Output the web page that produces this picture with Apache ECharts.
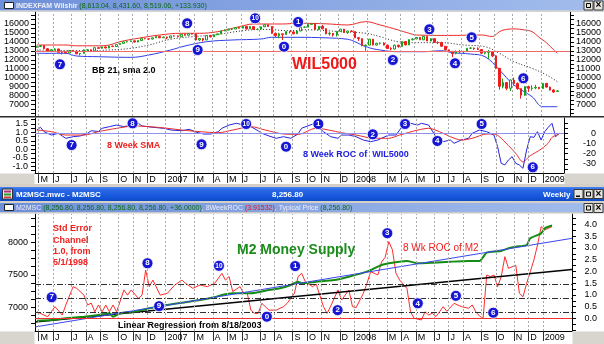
<!DOCTYPE html>
<html>
<head>
<meta charset="utf-8">
<script src="https://cdn.jsdelivr.net/npm/echarts@6/dist/echarts.min.js"></script>
<style>
html,body{margin:0;padding:0;background:#ffffff;}
#chart{width:604px;height:344px;}
</style>
</head>
<body>
<div id="chart"></div>
<script>
// Weekly bars, week index 0 = Friday 2006-04-28, last bar = 2009-01-30 (index 144)

// Wilshire 5000 weekly candles
const wilOpen = [
  13400,13480,13590,13235,12987,13122,13204,12836,12828,12756,
  13020,12971,12671,12713,13106,13114,12984,13349,13275,13438,
  13314,13527,13477,13692,13833,13997,14028,14117,13984,14154,
  14362,14359,14316,14450,14628,14461,14538,14449,14665,14663,
  14578,14846,14741,14919,14875,14219,14379,14216,14720,14564,
  14799,14892,15215,15315,15432,15435,15609,15536,15747,15454,
  15712,15402,15410,15687,15913,15725,14954,14689,14899,14820,
  15164,15109,14899,15214,15639,15650,15965,16008,15381,15737,
  15474,14900,14952,14767,15181,15423,15046,15216,15155,14469,
  14360,13583,13639,14303,13646,13838,13869,13639,13257,13203,
  13627,13481,14047,13661,14251,14327,14492,14230,14610,14103,
  14354,13947,13940,13508,13104,12945,12705,12922,12892,12918,
  13287,13307,13245,13149,12734,12830,12865,12436,11040,9030,
  9450,8810,9730,9350,8770,8040,9000,8800,8840,8920,
  8770,9360,8940,8620,8450
];
const wilClose = [
  13480,13590,13235,12987,13122,13204,12836,12828,12756,13020,
  12971,12671,12713,13106,13114,12984,13349,13275,13438,13314,
  13527,13477,13692,13833,13997,14028,14117,13984,14154,14362,
  14359,14316,14450,14628,14461,14538,14449,14665,14663,14578,
  14846,14741,14919,14875,14219,14379,14216,14720,14564,14799,
  14892,15215,15315,15432,15435,15609,15536,15747,15454,15712,
  15402,15410,15687,15913,15725,14954,14689,14899,14820,15164,
  15109,14899,15214,15639,15650,15965,16008,15381,15737,15474,
  14900,14952,14767,15181,15423,15046,15216,15155,14469,14360,
  13583,13639,14303,13646,13838,13869,13639,13257,13203,13627,
  13481,14047,13661,14251,14327,14492,14230,14610,14103,14354,
  13947,13940,13508,13104,12945,12705,12922,12892,12918,13287,
  13307,13245,13149,12734,12830,12865,12436,11040,9030,9450,
  8810,9730,9350,8770,8040,9000,8800,8840,8920,8770,
  9360,8940,8620,8385,8519
];
const wilLow = [
  13340,13420,13180,12900,12850,13080,12780,12600,12700,12720,
  12900,12620,12480,12690,13000,12920,12960,13220,13240,13270,
  13290,13420,13450,13670,13810,13950,13990,13930,13950,14130,
  14300,14200,14290,14430,14420,14440,14300,14420,14600,14520,
  14560,14700,14720,14830,14150,14100,14050,14200,14500,14540,
  14770,14880,15200,15290,15330,15420,15490,15520,15380,15430,
  15370,15300,15400,15660,15680,14900,14550,14400,14200,14800,
  14950,14850,14880,15200,15550,15630,15920,15350,15300,15400,
  14850,14700,14600,14600,15150,15000,14900,15100,14420,14100,
  13500,13000,13600,13600,13600,13700,13600,13200,13050,13150,
  13350,13450,13620,13640,14150,14300,14200,14200,14080,14050,
  13900,13750,13480,13050,12850,12300,12600,12750,12750,12880,
  13200,13100,13100,12650,12600,12100,12300,10950,8650,8800,
  8600,8500,9100,8650,7650,7950,8400,8550,8700,8700,
  8750,8880,8560,8300,8432
];
const wilHigh = [
  13560,13650,13620,13300,13170,13290,13230,12900,12900,13060,
  13080,13000,12760,13140,13190,13150,13370,13400,13460,13470,
  13560,13580,13710,13860,14020,14080,14150,14160,14180,14390,
  14420,14400,14480,14650,14650,14600,14590,14690,14720,14720,
  14870,14880,14940,14980,14900,14420,14420,14760,14760,14820,
  14930,15230,15380,15460,15480,15620,15650,15770,15790,15730,
  15740,15500,15700,15960,15950,15740,15050,15020,14900,15200,
  15240,15200,15250,15660,15720,15990,16090,16020,15760,15900,
  15500,15100,14980,15200,15450,15450,15250,15300,15170,14500,
  14400,13700,14330,14330,13900,13950,13950,13680,13400,13700,
  13680,14070,14080,14280,14400,14550,14520,14650,14620,14400,
  14400,14050,14000,13520,13150,12960,13050,13100,13000,13300,
  13420,13350,13400,13200,12900,13100,12950,12500,11050,9900,
  9500,9800,10000,9450,8800,9050,9100,9150,9200,8950,
  9400,9400,9000,8700,8613
];

// Bollinger bands (21, 2.0): [week, value]
const bbUpper = [[0,13650],[8,13650],[11,13560],[17,13560],[20,13650],[23,14020],[28,14400],[34,14770],[40,14960],[45,14960],[50,15140],[56,15700],[60,16000],[68,16000],[72,16080],[80,16020],[86,15890],[91,16260],[95,15890],[100,15330],[103,14960],[105,14770],[114,14720],[123,14770],[126,14600],[128,15140],[130,15400],[132,15450],[135,15330],[137,15140],[139,14500],[141,13900],[143,13100],[144,12720]];
const bbLower = [[0,12720],[8,12720],[11,12420],[17,12340],[26,12270],[31,12530],[37,13090],[41,13540],[47,14020],[54,14210],[62,14320],[65,14510],[72,14510],[80,14450],[86,14290],[88,14020],[91,13460],[95,13090],[100,12900],[107,12900],[112,13010],[115,12790],[120,12640],[124,12340],[128,10850],[132,9180],[137,7870],[140,6750],[144,6750]];
const bbMid = [[0,13090],[13,13010],[20,13090],[26,13280],[31,13650],[37,14290],[43,14580],[49,14770],[57,15250],[63,15400],[70,15250],[75,15350],[84,15140],[91,14960],[95,14580],[100,14020],[105,13910],[112,13910],[118,13650],[124,13460],[128,12720],[132,11790],[137,11040],[141,10300],[144,9550]];

// 8 week ROC of WIL5000 (%) and its 8 week SMA
const rocWil = [[0,3.2],[1,5.9],[2,1.6],[4,-1.7],[6,0],[7,-2.6],[8,-4.9],[10,-3.3],[12,-2.6],[14,0],[15,2.5],[17,1.8],[18,4.9],[20,6.5],[22,8.1],[24,6.5],[26,8.1],[28,9.8],[29,7.2],[32,5.9],[35,4.9],[37,3.2],[40,2.5],[42,3.9],[44,1.0],[46,-0.7],[48,-0.7],[50,1.6],[51,4.9],[53,8.1],[55,9.8],[57,8.1],[59,6.5],[61,2.5],[62,0],[64,-2.6],[66,-4.9],[68,-3.3],[70,-4.9],[72,-0.7],[73,5.0],[76,9.0],[77,8.0],[79,1.6],[81,-3.3],[83,-4.9],[84,-1.7],[86,-1.7],[88,-3.3],[90,-6.6],[92,-8.2],[94,-6.6],[95,-4.9],[97,-1.7],[99,-1.7],[101,8.1],[103,9.8],[105,8.1],[106,9.8],[108,8.1],[110,-3.3],[112,-8.2],[114,-6.6],[115,-9.8],[117,-6.6],[119,-4.9],[120,0],[122,3.2],[124,1.6],[126,-1.7],[127,-13],[128,-29.4],[129,-31],[130,-26.2],[131,-22.9],[132,-29.4],[133,-31],[134,-34.3],[135,-16.4],[136,-3.3],[137,-4],[138,1.6],[139,-6.6],[140,1.6],[141,6],[142,9.8],[143,-3.3],[144,0]];
const smaWil = [[0,3.2],[4,1.6],[8,-1.7],[13,-1.7],[17,1.6],[22,4.9],[27,7.2],[31,6.5],[36,4.9],[40,3.2],[45,1.6],[50,0.6],[54,3.2],[59,6.5],[63,3.2],[68,-0.7],[72,-1.0],[77,4.9],[84,0.6],[88,-1.7],[93,-4.9],[97,-4.9],[100,-1.7],[105,3.2],[108,4.9],[111,1.6],[114,-3.3],[117,-6.6],[120,-4.9],[124,-0.7],[126,-0.7],[130,-12],[132,-19.6],[134,-28],[136,-22],[139,-15.5],[141,-9.5],[142,-4],[144,-0.7]];

// M2 money supply (typical price, $bn) and its 8 week ROC (%)
const m2Typical = [[0,6794],[4,6805],[8,6831],[13,6855],[17,6882],[20,6908],[21,6855],[23,6908],[27,6932],[31,6985],[36,7035],[40,7071],[45,7112],[49,7154],[51,7189],[54,7215],[59,7215],[64,7266],[67,7292],[70,7343],[72,7394],[73,7369],[77,7394],[82,7420],[86,7471],[91,7548],[95,7651],[98,7686],[102,7712],[105,7677],[109,7686],[114,7701],[119,7712],[122,7712],[124,7840],[128,7866],[130,7907],[132,7932],[135,7958],[136,8061],[139,8138],[140,8215],[141,8240],[142,8256.8]];
const rocM2 = [[0,0.28],[3,0.07],[4,0.28],[5,0.50],[7,0.14],[8,0.57],[10,1.35],[11,1.28],[13,0.99],[14,0.57],[15,0.65],[16,0.28],[17,0.57],[18,0.28],[19,0.57],[20,0.28],[21,0.57],[22,0.28],[24,1.21],[25,0.99],[26,1.21],[28,0.85],[29,0.99],[30,2.06],[31,1.35],[32,1.63],[34,0.99],[36,1.07],[38,1.42],[40,1.63],[41,1.49],[43,1.28],[45,1.42],[47,1.35],[49,1.49],[51,1.92],[52,1.63],[53,1.78],[54,1.14],[56,1.35],[57,1.07],[58,1.07],[59,0.35],[60,0.21],[61,0.21],[62,0.64],[64,0.35],[66,0.35],[68,0.50],[69,0.64],[71,1.07],[72,1.78],[73,1.92],[74,1.56],[76,1.35],[77,1.46],[79,0.50],[80,0.21],[81,0.52],[83,1.21],[84,0.78],[86,1.21],[87,0.50],[88,0.46],[90,1.07],[91,1.49],[92,1.99],[94,1.85],[95,2.4],[96,2.6],[97,3.27],[98,2.92],[99,1.92],[100,1.63],[102,1.28],[103,0.28],[104,0.0],[106,-0.07],[107,0.28],[108,0.14],[109,0.22],[110,0.07],[111,0.28],[112,0.5],[113,0.3],[115,0.64],[117,0.50],[119,0.43],[120,0.57],[121,0.28],[122,0.1],[123,0.0],[124,1.85],[125,1.78],[126,1.85],[127,1.35],[128,1.78],[129,2.63],[130,2.13],[131,2.20],[132,2.27],[133,1.07],[134,0.92],[135,1.49],[136,1.99],[137,2.49],[138,3.13],[139,3.91],[140,3.77],[142,3.91532]];

// Regression lines on M2 (end points at the axis edges)
const regBlue = [[-0.5,6697],[147.5,8061]];
const regBlack = [[-0.5,6774],[147.5,7581]];

// Cycle markers: [text, week, value]
const topMarks = [['7',6.4,11492],['8',41.6,16078],['9',44.5,13092],['10',60.4,16638],['0',68.4,13461],['1',72.3,16224],['2',98.5,11973],['3',108.6,15407],['4',115.7,11604],['5',120.3,14512],['6',134.6,9926]];
const midMarks = [['7',9.6,-11.5],['8',26.4,9.8],['9',45.4,-10.8],['10',57.7,9.1],['0',68.7,-13.1],['1',77.6,9.1],['2',92.6,-1.0],['3',101.5,9.1],['4',110.4,-7.5],['5',122.6,9.1],['6',136.7,-33.3]];
const botMarks = [['7',4.1,0.90],['8',30.5,2.35],['9',33.7,0.52],['10',50.2,2.24],['0',63.4,0.07],['1',71.2,2.23],['2',82.9,0.35],['3',96.6,3.63],['4',105,0.64],['5',115.5,0.96],['6',125.8,0.24]];

// Month axis: first bar of each month and its label (February left blank)
const monthStartWeek = [1,5,10,14,18,23,27,31,36,40,44,49,53,57,62,66,71,75,79,84,88,92,97,101,105,110,114,118,123,127,132,136,140];
const monthLabel = ['M','J','J','A','S','O','N','D','2007','','M','A','M','J','J','A','S','O','N','D','2008','','M','A','M','J','J','A','S','O','N','D','2009'];

// Value axis ticks and labels
const topTicks = [6000,6500,7000,7500,8000,8500,9000,9500,10000,10500,11000,11500,12000,12500,13000,13500,14000,14500,15000,15500,16000,16500,17000];
const topLabels = [7000,8000,9000,10000,11000,12000,13000,14000,15000,16000];
const midLeftTicks = [-1.25,-1,-0.75,-0.5,-0.25,0,0.25,0.5,0.75,1,1.25,1.5,1.75];
const midLeftLabelsWhole = [-1,0,1];
const midLeftLabelsHalf = [-0.5,0.5,1.5];
const midRightTicks = [-35,-30,-25,-20,-15,-10,-5,0,5,10];
const midRightLabels = [-30,-20,-10,0];
const botLeftTicks = [6750,6875,7000,7125,7250,7375,7500,7625,7750,7875,8000,8125,8250,8375];
const botLeftLabels = [7000,7500,8000];
const botRightTicks = [-0.5,-0.25,0,0.25,0.5,0.75,1,1.25,1.5,1.75,2,2.25,2.5,2.75,3,3.25,3.5,3.75,4,4.25];
const botRightLabels = [0,0.5,1,1.5,2,2.5,3,3.5,4];

const FONT = 'Liberation Sans';

const candles = wilOpen.map((o, i) => [i, o, wilClose[i], wilLow[i], wilHigh[i]]);

const monthBounds = monthStartWeek.map(w => w - 0.5);
function vLines(extra) {
  return {
    silent: true,
    symbol: ['none', 'none'],
    label: { show: false },
    emphasis: { disabled: true },
    lineStyle: { color: '#a8a8a8', width: 1, type: [2, 2] },
    data: monthBounds.map(v => ({ xAxis: v })).concat(extra)
  };
}

function monthAxis(grid, max, show) {
  return {
    type: 'value', gridIndex: grid, min: -0.5, max: max,
    axisLine: { show: show, onZero: false, lineStyle: { color: '#000', width: 1 } },
    axisTick: { show: show, customValues: monthBounds, length: 10, lineStyle: { color: '#303030' } },
    axisLabel: {
      show: show, customValues: monthStartWeek, align: 'left', margin: 2,
      showMinLabel: true, showMaxLabel: true, hideOverlap: false,
      fontSize: 9, fontFamily: FONT, color: '#000',
      formatter: v => { const k = monthStartWeek.indexOf(Math.round(v)); return k >= 0 ? monthLabel[k] : ''; }
    },
    splitLine: { show: false }
  };
}

function valAxis(grid, pos, min, max, ticks, labels, fmt, margin, align, bare) {
  const lab = { customValues: labels, formatter: fmt, fontSize: 9, fontFamily: FONT, color: '#000', margin: margin,
    showMinLabel: true, showMaxLabel: true, hideOverlap: false };
  if (align) lab.align = align;
  return {
    type: 'value', gridIndex: grid, position: pos, min: min, max: max,
    axisLine: { show: !bare, onZero: false, lineStyle: { color: '#000', width: 1 } },
    axisTick: { show: !bare, customValues: ticks, length: 4, lineStyle: { color: '#000' } },
    axisLabel: lab,
    splitLine: { show: false }
  };
}

function markerSeries(marks, xi, yi) {
  return {
    type: 'scatter', xAxisIndex: xi, yAxisIndex: yi, z: 6, silent: true, clip: false,
    symbol: 'circle', symbolSize: 11,
    itemStyle: { color: '#1616d4', borderColor: '#ffffff', borderWidth: 0.8, opacity: 1 },
    label: { show: true, position: 'inside', color: '#ffffff', fontFamily: FONT, fontWeight: 'bold', fontSize: 8, formatter: p => p.name },
    data: marks.map(m => ({ name: m[0], value: [m[1], m[2]], label: m[0].length > 1 ? { fontSize: 6.5 } : {} }))
  };
}

function lineSeries(data, xi, yi, style, extra) {
  return Object.assign({
    type: 'line', xAxisIndex: xi, yAxisIndex: yi, data: data,
    symbol: 'none', showSymbol: false, silent: true, lineStyle: style, z: 3
  }, extra || {});
}

const blueGrad = { type: 'linear', x: 0, y: 0, x2: 1, y2: 0, colorStops: [{ offset: 0, color: '#6e8fd9' }, { offset: 1, color: '#a3bdec' }] };
const barGrad = { type: 'linear', x: 0, y: 0, x2: 0, y2: 1, colorStops: [{ offset: 0, color: '#4a86f2' }, { offset: 0.2, color: '#2a68e6' }, { offset: 0.7, color: '#1556da' }, { offset: 1, color: '#0f4bc8' }] };

function button(x, y, glyph) {
  const els = [{ type: 'rect', shape: { x: x, y: y, width: 9, height: 9 }, style: { fill: '#e6e4de', stroke: '#3a3a3a', lineWidth: 1 }, z: 20 }];
  if (glyph === 'box') {
    els.push({ type: 'rect', shape: { x: x + 2.5, y: y + 2.5, width: 4, height: 4 }, style: { fill: 'none', stroke: '#000', lineWidth: 1 }, z: 21 });
  } else if (glyph === 'min') {
    els.push({ type: 'rect', shape: { x: x + 2, y: y + 6, width: 4, height: 1.5 }, style: { fill: '#000' }, z: 21 });
  } else {
    els.push({ type: 'text', x: x + 4.5, y: y + 4.7, style: { text: '×', fill: '#000', fontSize: 10, fontWeight: 'bold', fontFamily: FONT, align: 'center', verticalAlign: 'middle' }, z: 21 });
  }
  return els;
}

function txt(x, y, text, size, color, weight) {
  return { type: 'text', x: x, y: y, z: 30, silent: true,
    style: { text: text, fill: color, fontSize: size, fontFamily: FONT, fontWeight: weight || 'bold', verticalAlign: 'middle' } };
}

const graphics = [].concat(
  [
    // price window caption
    { type: 'rect', shape: { x: 0, y: 0, width: 604, height: 10.5 }, style: { fill: blueGrad }, z: 10 },
    { type: 'rect', shape: { x: 4.5, y: 2.5, width: 9, height: 6 }, style: { fill: '#ffffff', stroke: '#222', lineWidth: 1 }, z: 11 },
    { type: 'text', x: 16, y: 5.6, z: 11, style: {
      text: '{a|INDEXFAM Wilshir }{b|(8,613.04, 8,431.60, 8,519.06, +133.930)}', verticalAlign: 'middle',
      rich: { a: { fill: '#eeeef6', fontSize: 7, fontFamily: FONT, fontWeight: 'bold' }, b: { fill: '#0a6a12', fontSize: 7, fontFamily: FONT } } } },
    { type: 'rect', shape: { x: 0, y: 10.5, width: 604, height: 1.2 }, style: { fill: '#c4c4c4' }, z: 10 },
    // panel separator
    { type: 'rect', shape: { x: 0, y: 116, width: 604, height: 1.6 }, style: { fill: '#2a2a2a' }, z: 10 },
    // date strip sides and window gap
    { type: 'rect', shape: { x: 0, y: 173.5, width: 34.5, height: 11 }, style: { fill: '#d8d5ce' }, z: 1 },
    { type: 'rect', shape: { x: 564.5, y: 173.5, width: 39.5, height: 11 }, style: { fill: '#d8d5ce' }, z: 1 },
    { type: 'rect', shape: { x: 0, y: 184, width: 604, height: 3 }, style: { fill: '#d4d0c8' }, z: 10 },
    // M2 window title bar
    { type: 'rect', shape: { x: 0, y: 187, width: 604, height: 14 }, style: { fill: barGrad }, z: 10 },
    { type: 'rect', shape: { x: 2.5, y: 189, width: 10, height: 10 }, style: { fill: '#ececec', stroke: '#333', lineWidth: 1 }, z: 11 },
    { type: 'rect', shape: { x: 4, y: 190.5, width: 7, height: 2 }, style: { fill: '#b02a7a' }, z: 12 },
    { type: 'rect', shape: { x: 4, y: 193.5, width: 7, height: 2 }, style: { fill: '#2a9a2a' }, z: 12 },
    { type: 'rect', shape: { x: 4, y: 196.5, width: 7, height: 1.5 }, style: { fill: '#d03a3a' }, z: 12 },
    txt(16, 194.5, 'M2MSC.mwc - M2MSC', 8, '#ffffff'),
    txt(272, 194.5, '8,256.80', 8, '#ffffff'),
    txt(543, 194.5, 'Weekly', 8, '#ffffff'),
    { type: 'rect', shape: { x: 0, y: 201, width: 604, height: 2 }, style: { fill: '#d4d0c8' }, z: 10 },
    // M2 pane caption
    { type: 'rect', shape: { x: 0, y: 203, width: 604, height: 9 }, style: { fill: blueGrad }, z: 10 },
    { type: 'rect', shape: { x: 4.5, y: 204.5, width: 9, height: 6 }, style: { fill: '#ffffff', stroke: '#222', lineWidth: 1 }, z: 11 },
    { type: 'text', x: 16, y: 207.6, z: 11, style: {
      text: '{a|M2MSC }{b|(8,256.80, 8,256.80, 8,256.80, 8,256.80, +36.0000)}{a|, 8WeekROC }{r|(3.91532)}{a|, Typical Price }{b|(8,256.80)}',
      verticalAlign: 'middle',
      rich: {
        a: { fill: '#eeeef6', fontSize: 7, fontFamily: FONT },
        b: { fill: '#0a6a12', fontSize: 7, fontFamily: FONT },
        r: { fill: '#e01818', fontSize: 7, fontFamily: FONT }
      } } },
    { type: 'rect', shape: { x: 0, y: 212, width: 604, height: 1.5 }, style: { fill: '#c8c8c8' }, z: 10 },
    // lower date strip sides
    { type: 'rect', shape: { x: 0, y: 331.5, width: 34.5, height: 12.5 }, style: { fill: '#d8d5ce' }, z: 1 },
    { type: 'rect', shape: { x: 572.5, y: 331.5, width: 31.5, height: 12.5 }, style: { fill: '#d8d5ce' }, z: 1 },
    // annotations
    txt(92, 71, 'BB 21, sma 2.0', 9, '#000000'),
    txt(292, 65, 'WIL5000', 16, '#f01818'),
    txt(107, 146, '8 Week SMA', 9, '#f02020'),
    txt(303, 154.5, '8 Week ROC of  WIL5000', 9, '#2020e0'),
    txt(53, 229, 'Std Error', 9, '#f02020'),
    txt(53, 240.5, 'Channel', 9, '#f02020'),
    txt(53, 251.5, '1.0, from', 9, '#f02020'),
    txt(53, 262.5, '5/1/1998', 9, '#f02020'),
    txt(237, 250, 'M2 Money Supply', 14, '#1a8c1a'),
    txt(403, 248, '8 Wk ROC of M2', 10, '#f02020', 'normal'),
    txt(118, 326, 'Linear Regression from 8/18/2003', 9, '#000000')
  ],
  button(584, 1, 'box'), button(594, 1, 'x'),
  button(574, 189.5, 'min'), button(584, 189.5, 'box'), button(594, 189.5, 'x'),
  button(584, 203.5, 'box'), button(594, 203.5, 'x')
);

const chart = echarts.init(document.getElementById('chart'), null, { renderer: 'canvas', width: 604, height: 344 });

chart.setOption({
  animation: false,
  backgroundColor: '#ffffff',
  tooltip: { show: false },
  grid: [
    { left: 35, right: 32, top: 12, height: 104 },
    { left: 35, right: 40, top: 118, height: 55 },
    { left: 35, right: 32, top: 214, height: 117 }
  ],
  xAxis: [monthAxis(0, 147.5, false), monthAxis(1, 145.31, true), monthAxis(2, 147.5, true)],
  yAxis: [
    valAxis(0, 'left', 5709, 17342, topTicks, topLabels, v => String(v), 6),
    valAxis(0, 'right', 5709, 17342, topTicks, topLabels, v => String(v), 6),
    valAxis(1, 'left', -1.39, 1.84, midLeftTicks, midLeftLabelsWhole, v => v.toFixed(1), 7),
    valAxis(1, 'right', -38.9, 15.0, midRightTicks, midRightLabels, v => String(v), 32, 'right'),
    valAxis(2, 'left', 6635, 8435, botLeftTicks, botLeftLabels, v => String(v), 7),
    valAxis(2, 'right', -0.54, 4.45, botRightTicks, botRightLabels, v => v.toFixed(1), 25, 'right'),
    // half-step labels of the ratio scale, on their own axis so none are dropped
    valAxis(1, 'left', -1.39, 1.84, [], midLeftLabelsHalf, v => v.toFixed(1), 7, null, true)
  ],
  series: [
    // price pane
    lineSeries(bbUpper, 0, 0, { color: '#ec2a2a', width: 1 }, {
      smooth: 0.4, z: 2,
      markLine: vLines([{ yAxis: 13000, lineStyle: { color: '#f06a6a', width: 1, type: 'solid' } }])
    }),
    lineSeries(bbLower, 0, 0, { color: '#2f3fe8', width: 1 }, { smooth: 0.4, z: 2 }),
    lineSeries(bbMid, 0, 0, { color: '#202020', width: 1, type: [1, 2] }, { smooth: 0.4, z: 2 }),
    {
      type: 'candlestick', xAxisIndex: 0, yAxisIndex: 0, data: candles, barWidth: 2, silent: true, z: 3,
      itemStyle: { color: '#ffffff', color0: '#ee1c1c', borderColor: '#14a014', borderColor0: '#ee1c1c', borderWidth: 1 }
    },
    markerSeries(topMarks, 0, 0),
    // ROC pane
    lineSeries(rocWil, 1, 3, { color: '#2424e0', width: 1 }, {
      markLine: vLines([{ yAxis: 0, lineStyle: { color: '#9090f0', width: 1, type: 'solid' } }])
    }),
    lineSeries(smaWil, 1, 3, { color: '#ec2a2a', width: 1 }, { smooth: 0.3 }),
    markerSeries(midMarks, 1, 3),
    // M2 pane
    lineSeries(rocM2, 2, 5, { color: '#ff2a2a', width: 1 }, {
      z: 2,
      markLine: vLines([
        { yAxis: 0, lineStyle: { color: '#f03030', width: 1, type: 'solid' } },
        { yAxis: 1.45, lineStyle: { color: '#303030', width: 1, type: [6, 2, 1, 2] } },
        { yAxis: 0.85, lineStyle: { color: '#303030', width: 1, type: [6, 2, 1, 2] } },
        { yAxis: 0.25, lineStyle: { color: '#303030', width: 1, type: [6, 2, 1, 2] } }
      ])
    }),
    lineSeries(regBlack, 2, 4, { color: '#000000', width: 1.6 }),
    lineSeries(m2Typical, 2, 4, { color: '#148c14', width: 2 }, { smooth: 0.2 }),
    lineSeries(regBlue, 2, 4, { color: '#3a46f0', width: 1 }),
    markerSeries(botMarks, 2, 5)
  ],
  graphic: graphics
});
</script>
</body>
</html>
